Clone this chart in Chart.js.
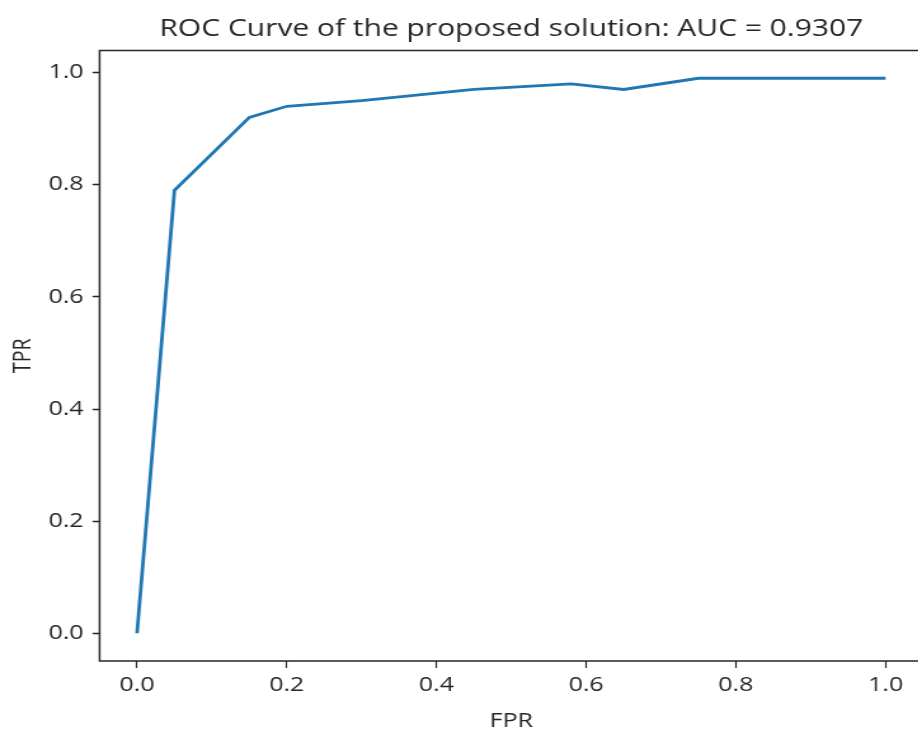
<!DOCTYPE html>
<html>
<head>
<meta charset="utf-8">
<script src="https://cdn.jsdelivr.net/npm/chart.js@4/dist/chart.umd.min.js"></script>
<style>
  html, body { margin: 0; padding: 0; background: #fff; overflow: hidden; }
  #wrap { width: 918px; height: 729px; overflow: hidden; position: relative; }
  #roc { display: block; transform-origin: 0 0; }
</style>
</head>
<body>
<div id="wrap"><canvas id="roc"></canvas></div>
<script>
// ─── Data ───────────────────────────────────────────
const FPR = [0, 0.05, 0.15, 0.2, 0.3, 0.45, 0.58, 0.65, 0.75, 1.0];
const TPR = [0, 0.79, 0.92, 0.94, 0.95, 0.97, 0.98, 0.97, 0.99, 0.99];
const X_TICKS = [0, 0.2, 0.4, 0.6, 0.8, 1.0];
const Y_TICKS = [0, 0.2, 0.4, 0.6, 0.8, 1.0];
const TITLE = 'ROC Curve of the proposed solution: AUC = 0.9307';

// ─── Look ───────────────────────────────────────────
// the reference figure is stretched sideways, so draw narrow and scale in x
const S = 1.27;
const FULL_W = 924, H = 729;           // right spine sits just past the window edge
const W = Math.ceil(FULL_W / S);
const FONT = '"Open Sans", "Noto Sans", "DejaVu Sans", sans-serif';
const INK = '#262626';

const canvas = document.getElementById('roc');
canvas.width = W;
canvas.height = H;
canvas.style.width = W + 'px';
canvas.style.height = H + 'px';
canvas.style.transform = `scaleX(${S})`;

// ─── Plugins ────────────────────────────────────────
// matplotlib-like frame (all four spines) + title centred over the axes
const frame = {
  id: 'frame',
  afterDatasetsDraw(chart) {
    const { ctx, chartArea: a } = chart;
    ctx.save();
    ctx.strokeStyle = INK;
    ctx.lineWidth = 1.5;
    ctx.strokeRect(a.left, a.top, a.right - a.left, a.bottom - a.top);
    ctx.fillStyle = INK;
    ctx.font = '23.6px ' + FONT;
    ctx.textAlign = 'center';
    ctx.textBaseline = 'alphabetic';
    ctx.fillText(TITLE, (a.left + a.right) / 2, 36);
    ctx.restore();
  }
};

const setTicks = vals => scale => { scale.ticks = vals.map(v => ({ value: v })); };

// ─── Chart ──────────────────────────────────────────
new Chart(canvas, {
  type: 'line',
  data: {
    datasets: [{
      data: FPR.map((x, i) => ({ x, y: TPR[i] })),
      borderColor: '#1f77b4',
      borderWidth: 2.8,
      pointRadius: 0,
      tension: 0,
      fill: false
    }]
  },
  options: {
    responsive: false,
    animation: false,
    devicePixelRatio: 1,
    layout: { padding: { top: 50.5, right: W - 923 / S, bottom: 0, left: 0 } },
    plugins: { legend: { display: false }, tooltip: { enabled: false }, title: { display: false } },
    scales: {
      x: {
        type: 'linear',
        min: -0.05, max: 1.05,
        afterBuildTicks: setTicks(X_TICKS),
        afterFit: s => { s.height = 68; },
        border: { display: false },
        grid: { drawOnChartArea: false, tickLength: 7, tickWidth: 1.5 / S, tickColor: INK },
        ticks: { color: INK, font: { family: FONT, size: 19.7 }, padding: 6,
                 maxRotation: 0, autoSkip: false, callback: v => v.toFixed(1) },
        title: { display: true, text: 'FPR', color: INK,
                 font: { family: FONT, size: 19.7, lineHeight: 0.8 }, padding: { top: 0, bottom: 0 } }
      },
      y: {
        type: 'linear',
        min: -0.0495, max: 1.0395,
        afterBuildTicks: setTicks(Y_TICKS),
        afterFit: s => { s.width = 99.6 / S; },
        border: { display: false },
        grid: { drawOnChartArea: false, tickLength: 7 / S, tickWidth: 1.5, tickColor: INK },
        ticks: { color: INK, font: { family: FONT, size: 19.7 }, padding: 9 / S,
                 autoSkip: false, callback: v => v.toFixed(1) },
        title: { display: true, text: 'TPR', color: INK,
                 font: { family: FONT, size: 19.7, lineHeight: 1 }, padding: { top: 12 / S - 1, bottom: 0 } }
      }
    }
  },
  plugins: [frame]
});
</script>
</body>
</html>
